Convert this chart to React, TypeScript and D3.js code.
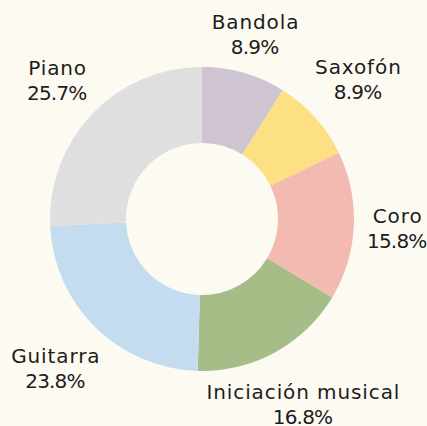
import React from "react";
import * as d3 from "d3";

const categories = ["Bandola", "Saxofón", "Coro", "Iniciación musical", "Guitarra", "Piano"];
const values = [8.9, 8.9, 15.8, 16.8, 23.8, 25.7];
const colors = ["#cfc4d2", "#fde084", "#f2bab0", "#a7bd88", "#c4dcef", "#dfdfdf"];

const W = 427;
const H = 426;
const CX = 202;
const CY = 219;
const R_OUT = 152;
const R_IN = 76;
const FONT = "DejaVu Sans";
const FS = 20;
const NAME_LS = 0.9;
const PCT_LS = -0.8;
const LINE = 25;
const CAP = 0.729 * FS;
const GAP = 13;

function measure(text: string, ls: number): number {
  if (typeof document === "undefined") return text.length * (FS * 0.55 + ls);
  const c = document.createElement("canvas");
  const ctx = c.getContext("2d");
  if (!ctx) return text.length * (FS * 0.55 + ls);
  ctx.font = `${FS}px "${FONT}"`;
  return ctx.measureText(text).width + ls * Math.max(0, text.length - 1);
}

function boxDist(cx: number, cy: number, w: number, h: number): number {
  const x0 = cx - w / 2, x1 = cx + w / 2, y0 = cy - h / 2, y1 = cy + h / 2;
  const dx = x0 > 0 ? x0 : x1 < 0 ? -x1 : 0;
  const dy = y0 > 0 ? y0 : y1 < 0 ? -y1 : 0;
  return Math.sqrt(dx * dx + dy * dy);
}

export default function App() {
  const data = categories.map((c, i) => ({ name: c, value: values[i], color: colors[i] }));
  const pie = d3.pie<any>().sort(null).value((d: any) => d.value).startAngle(0).endAngle(2 * Math.PI);
  const arcs = pie(data);
  const arc = d3.arc<any>().innerRadius(R_IN).outerRadius(R_OUT);

  const labels = arcs.map((a) => {
    const mid = (a.startAngle + a.endAngle) / 2;
    const ux = Math.sin(mid);
    const uy = -Math.cos(mid);
    const l1 = a.data.name;
    const l2 = `${d3.format(".1f")(a.data.value)}%`;
    const w = Math.max(measure(l1, NAME_LS), measure(l2, PCT_LS));
    const h = CAP + LINE;
    const target = R_OUT + GAP;
    let lo = 0, hi = 400;
    for (let k = 0; k < 50; k++) {
      const m = (lo + hi) / 2;
      if (boxDist(ux * m, uy * m, w, h) < target) lo = m;
      else hi = m;
    }
    const cx = ux * hi;
    const cy = uy * hi;
    const top = cy - h / 2;
    return { l1, l2, x: cx, y1: top + CAP, y2: top + CAP + LINE };
  });

  return (
    <svg
      width={W}
      height={H}
      style={{ position: "absolute", left: 0, top: 0, display: "block" }}
      fontFamily={FONT}
    >
      <rect width={W} height={H} fill="#fdfaf2" />
      <g transform={`translate(${CX},${CY})`}>
        {arcs.map((a, i) => (
          <path key={i} d={arc(a) as string} fill={a.data.color} />
        ))}
        {labels.map((l, i) => (
          <g key={i} fontSize={FS} fill="#1c1c1c" textAnchor="middle">
            <text x={l.x + NAME_LS / 2} y={l.y1} letterSpacing={NAME_LS}>{l.l1}</text>
            <text x={l.x + PCT_LS / 2} y={l.y2} letterSpacing={PCT_LS}>{l.l2}</text>
          </g>
        ))}
      </g>
    </svg>
  );
}
